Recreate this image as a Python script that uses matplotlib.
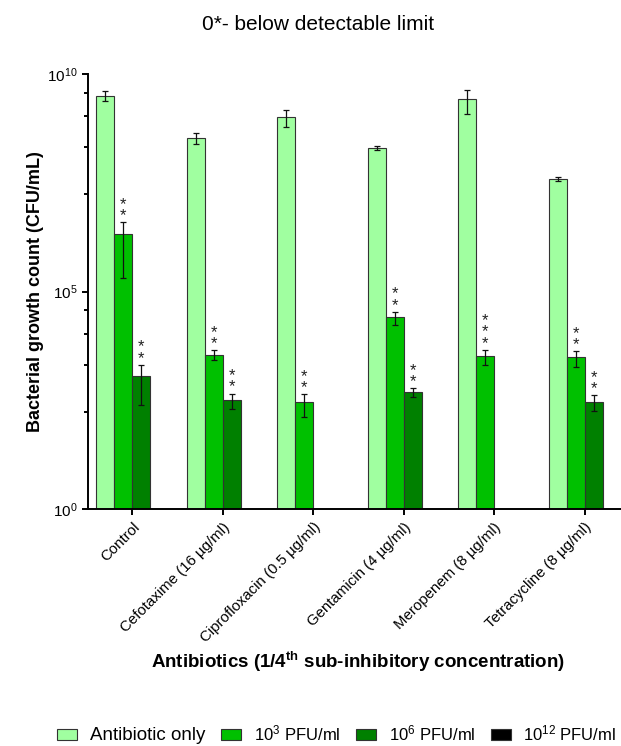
import numpy as np
import matplotlib
matplotlib.use("Agg")
import matplotlib.pyplot as plt
from matplotlib.ticker import FixedLocator, FuncFormatter, NullFormatter

plt.rcParams['font.family'] = ['Liberation Sans', 'DejaVu Sans']
plt.rcParams['mathtext.fontset'] = 'custom'
plt.rcParams['mathtext.rm'] = 'Liberation Sans'
plt.rcParams['mathtext.it'] = 'Liberation Sans:italic'
plt.rcParams['mathtext.bf'] = 'Liberation Sans:bold'

# ---- data -------------------------------------------------------------
antibiotics = ["Control", "Cefotaxime (16 \u00b5g/ml)", "Ciprofloxacin (0.5 \u00b5g/ml)",
               "Gentamicin (4 \u00b5g/ml)", "Meropenem (8 \u00b5g/ml)", "Tetracycline (8 \u00b5g/ml)"]

series_labels = ["Antibiotic only", "10$^{3}$ PFU/ml", "10$^{6}$ PFU/ml", "10$^{12}$ PFU/ml"]

# mean bacterial counts (CFU/mL); 0 = below detectable limit
antibiotic_only = [3.2e9, 3.4e8, 1.05e9, 2.0e8, 2.7e9, 3.85e7]
phage_1e3 = [2.05e6, 3.53e3, 283, 2.55e4, 3.29e3, 3.07e3]
phage_1e6 = [1.16e3, 326, 0, 490, 0, 293]
phage_1e12 = [0, 0, 0, 0, 0, 0]

# standard deviations (CFU/mL)
sd_antibiotic_only = [8.5e8, 0.9e8, 4.5e8, 1.8e7, 1.5e9, 4.7e6]
sd_phage_1e3 = [1.85e6, 0.9e3, 155, 8.7e3, 1.3e3, 1.2e3]
sd_phage_1e6 = [0.92e3, 125, 0, 120, 0, 115]
sd_phage_1e12 = [0, 0, 0, 0, 0, 0]

# significance marks
sig_antibiotic_only = ["", "", "", "", "", ""]
sig_phage_1e3 = ["**", "**", "**", "**", "***", "**"]
sig_phage_1e6 = ["**", "**", "", "**", "", "**"]
sig_phage_1e12 = ["", "", "", "", "", ""]

colors = ["#A0FFA0", "#00C000", "#008000", "#000000"]

# ---- figure -----------------------------------------------------------
W, H = 621, 746
fig = plt.figure(figsize=(W / 100, H / 100), dpi=100)
ax_l, ax_r, ax_t, ax_b = 87.7, 621, 74, 509
ax = fig.add_axes([ax_l / W, 1 - ax_b / H, (ax_r - ax_l) / W, (ax_b - ax_t) / H])

means = [antibiotic_only, phage_1e3, phage_1e6, phage_1e12]
sds = [sd_antibiotic_only, sd_phage_1e3, sd_phage_1e6, sd_phage_1e12]
sigs = [sig_antibiotic_only, sig_phage_1e3, sig_phage_1e6, sig_phage_1e12]

x = np.arange(len(antibiotics))
width = 0.2
ax.set_yscale('log')

for j, (m, s, sg, c, lab) in enumerate(zip(means, sds, sigs, colors, series_labels)):
    m = np.array(m, dtype=float)
    s = np.array(s, dtype=float)
    vals = np.where(m > 0, m, np.nan)
    pos = x + (j - 1.5) * width
    ax.bar(pos, vals, width, color=c, edgecolor="#333333", linewidth=0.8,
           label=lab, zorder=2)
    ok = m > 0
    if ok.any():
        ax.errorbar(pos[ok], m[ok], yerr=s[ok], fmt='none', ecolor='#111111',
                    elinewidth=0.9, capsize=2.2, capthick=0.9, zorder=3)
    for k in range(len(x)):
        if sg[k] and m[k] > 0:
            top = m[k] + s[k]
            stars = "\n".join("*" * len(sg[k]))
            ax.annotate(stars, xy=(pos[k], top), xytext=(0, -1),
                        textcoords='offset pixels', ha='center', va='bottom',
                        linespacing=0.68, fontsize=12, color='#222222')

ax.set_ylim(1, 1e10)
ax.set_xlim(-0.493, 5.40)

ax.yaxis.set_major_locator(FixedLocator([1, 1e5, 1e10]))
ax.yaxis.set_major_formatter(FuncFormatter(lambda v, p: "$10^{%d}$" % round(np.log10(v))))
minor = []
for base in (0, 5):
    for n in range(1, 5):
        minor.append(10 ** (base + 5 * np.log10(1 + 1.8 * n)))
ax.yaxis.set_minor_locator(FixedLocator(minor))
ax.yaxis.set_minor_formatter(NullFormatter())

ax.set_xticks(x)
ax.set_xticklabels(antibiotics, rotation=45, ha='right', rotation_mode='anchor',
                   fontsize=10.8)

for side in ('top', 'right'):
    ax.spines[side].set_visible(False)
for side in ('left', 'bottom'):
    ax.spines[side].set_linewidth(1.4)

ax.tick_params(axis='y', which='major', length=4.5, width=1.4, labelsize=11, pad=3)
ax.tick_params(axis='y', which='minor', length=3, width=1.4)
ax.tick_params(axis='x', which='major', length=4, width=1.4, pad=4)

ax.set_ylabel("Bacterial growth count (CFU/mL)", fontsize=13, fontweight='bold')
ax.yaxis.set_label_coords((44 - ax_l) / (ax_r - ax_l), 0.5)

fig.text(318 / W, 1 - 30 / H, "0*- below detectable limit", ha='center',
         va='baseline', fontsize=15)
fig.text(358 / W, 1 - 668 / H,
         r"Antibiotics (1/4$^{\mathbf{th}}$ sub-inhibitory concentration)",
         ha='center', va='baseline', fontsize=13.5, fontweight='bold')

leg = fig.legend(loc='center', bbox_to_anchor=(337 / W, 1 - 734 / H), ncol=4,
                 frameon=False, fontsize=12, handlelength=1.2, handleheight=0.6,
                 handletextpad=0.75, columnspacing=0.95, borderpad=0, borderaxespad=0)
leg.get_texts()[0].set_fontsize(13.5)

fig.savefig("out.png", dpi=100)
